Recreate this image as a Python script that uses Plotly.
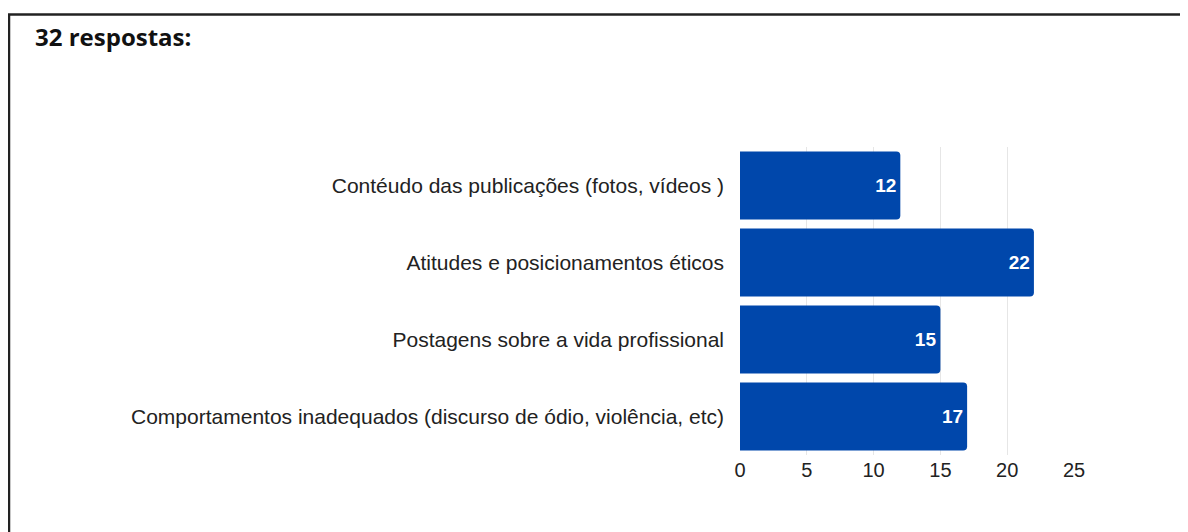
import plotly.graph_objects as go

categories = [
    "Contéudo das publicações (fotos, vídeos )",
    "Atitudes e posicionamentos éticos",
    "Postagens sobre a vida profissional",
    "Comportamentos inadequados (discurso de ódio, violência, etc)",
]
values = [12, 22, 15, 17]
tick_vals = [0, 5, 10, 15, 20, 25]
title_text = "32 respostas:"

OFF = 8  # page body margin
W, H = 1180, 524
L, R = 740, 1074          # plot area in page pixels
T, B = 146.5, 455.5

def px(x):
    return (x - L) / (R - L)

def py(y):
    return (B - y) / (B - T)

fig = go.Figure(go.Bar(
    y=categories, x=values, orientation="h",
    marker=dict(color="#0047AB", line=dict(width=0)),
    text=["<b>" + str(v) + "</b>" for v in values], textposition="inside",
    insidetextanchor="end",
    textfont=dict(color="white", size=19, family="Liberation Sans, Arial"),
    hoverinfo="skip",
))

fig.update_layout(
    width=W, height=H,
    margin=dict(l=L - OFF, r=W - (R - OFF), t=T - OFF, b=H - (B - OFF), pad=0),
    paper_bgcolor="white", plot_bgcolor="white",
    bargap=0.12,
    barcornerradius=4,
    showlegend=False,
    xaxis=dict(range=[0, 25], tickvals=tick_vals, showgrid=True,
               gridcolor="#e6e6e6", gridwidth=1, zeroline=False,
               showline=False, ticks="", ticklabelstandoff=1,
               tickfont=dict(size=20, color="#222", family="Liberation Sans, Arial")),
    yaxis=dict(autorange="reversed", showgrid=False, ticks="", showline=False,
               ticklabelstandoff=15,
               tickfont=dict(size=21, color="#222", family="Liberation Sans, Arial")),
    font=dict(family="Liberation Sans, Arial"),
    annotations=[dict(
        text="<b>" + title_text + "</b>", xref="paper", yref="paper",
        x=px(33), y=py(36), xanchor="left", yanchor="middle",
        showarrow=False, font=dict(size=24, color="#111", family="Open Sans"),
    )],
    shapes=[
        dict(type="line", xref="paper", yref="paper", x0=px(8), x1=px(1200),
             y0=py(13.5), y1=py(13.5), line=dict(color="#222", width=2.5)),
        dict(type="line", xref="paper", yref="paper", x0=px(9), x1=px(9),
             y0=py(13), y1=py(540), line=dict(color="#222", width=2.5)),
    ],
)

fig.write_html("out.html")
